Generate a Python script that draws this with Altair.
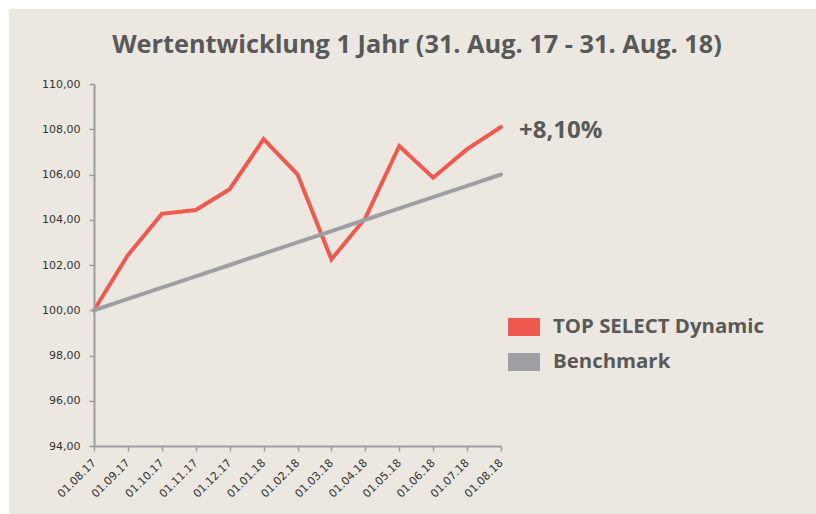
import altair as alt
import pandas as pd

dates = ["01.08.17", "01.09.17", "01.10.17", "01.11.17", "01.12.17", "01.01.18",
         "01.02.18", "01.03.18", "01.04.18", "01.05.18", "01.06.18", "01.07.18", "01.08.18"]
top_select = [100.00, 102.44, 104.26, 104.43, 105.35, 107.56, 106.01, 102.25,
              104.07, 107.26, 105.86, 107.12, 108.10]
benchmark = [100.00, 100.50, 101.00, 101.50, 102.00, 102.50, 103.00, 103.50,
             104.00, 104.50, 105.00, 105.50, 106.00]
series_names = ["TOP SELECT Dynamic", "Benchmark"]
series_colors = ["#F0594D", "#9E9FA3"]
annotation = "+8,10%"
title_text = "Wertentwicklung 1 Jahr (31. Aug. 17 - 31. Aug. 18)"

rows = []
for d, a, b in zip(dates, top_select, benchmark):
    rows.append({"Datum": d, "Serie": series_names[0], "Wert": a})
    rows.append({"Datum": d, "Serie": series_names[1], "Wert": b})
df = pd.DataFrame(rows)
ann_df = pd.DataFrame([{"Datum": dates[-1], "Wert": top_select[-1], "t": annotation}])

TEXT = "#595959"
BG = "#ECE8E1"
AXIS = "#9C9DA1"
FONT = "Open Sans"
RECT = "M-1,-0.5625H1V0.5625H-1Z"

W, H = 407, 362

x_enc = alt.X("Datum:O", sort=dates, scale=alt.Scale(type="point", padding=0),
              axis=alt.Axis(title=None, labelAngle=-45, labelAlign="right", labelBaseline="middle",
                            labelFont="DejaVu Sans", labelFontSize=11, labelColor="#333333",
                            domainColor=AXIS, domainWidth=2, tickColor=AXIS, tickWidth=1.5,
                            tickSize=5, labelPadding=10, grid=False, zindex=1))
y_enc = alt.Y("Wert:Q", scale=alt.Scale(domain=[94, 110], nice=False, zero=False),
              axis=alt.Axis(title=None, values=[94, 96, 98, 100, 102, 104, 106, 108, 110],
                            labelExpr="replace(format(datum.value, '.2f'), '.', ',')",
                            labelFont="DejaVu Sans", labelFontSize=11, labelColor="#333333",
                            domainColor=AXIS, domainWidth=2, tickColor=AXIS, tickWidth=1.5,
                            tickSize=5, labelPadding=9, grid=False, zindex=1))

color_scale = alt.Scale(domain=series_names, range=series_colors)

bg = alt.Chart(pd.DataFrame({"a": [0]})).mark_rect(color=BG).encode(
    x=alt.value(-85), x2=alt.value(W + 315), y=alt.value(-75), y2=alt.value(H + 68))

lines = alt.Chart(df).mark_line(strokeWidth=4, strokeCap="round", strokeJoin="miter").encode(
    x=x_enc, y=y_enc,
    color=alt.Color("Serie:N", sort=series_names, scale=color_scale, legend=None),
    order=alt.Order("Serie:N", sort="descending"))

legend = alt.Legend(
    title=None, orient="none", legendX=414, legendY=227,
    symbolType=RECT, symbolSize=1024, symbolStrokeWidth=0, symbolOpacity=1,
    labelFont=FONT, labelFontSize=20.4, labelFontWeight="bold",
    labelColor=TEXT, labelOffset=13, labelLimit=400, rowPadding=8, padding=0)

legend_layer = alt.Chart(df).mark_point(filled=True, opacity=0, shape=RECT, size=1).encode(
    x=alt.X("Datum:O", sort=dates), y="Wert:Q",
    color=alt.Color("Serie:N", sort=series_names, scale=color_scale, legend=legend))

ann = alt.Chart(ann_df).mark_text(align="left", baseline="middle", dx=18, dy=4,
                                  font=FONT, fontSize=24, fontWeight="bold", color=TEXT).encode(
    x=alt.X("Datum:O", sort=dates), y="Wert:Q", text="t:N")

title = alt.Chart(pd.DataFrame({"t": [title_text]})).mark_text(
    align="center", baseline="middle", font=FONT, fontSize=25.3, fontWeight="bold", color=TEXT).encode(
    x=alt.value(323), y=alt.value(-39), text="t:N")

chart = alt.layer(bg, lines, legend_layer, ann, title).resolve_scale(
    color="independent"
).properties(
    width=W, height=H,
    autosize=alt.AutoSizeParams(type="none"),
    padding={"left": 94, "top": 84, "right": 315, "bottom": 68},
    background="white",
).configure_view(stroke=None)

chart.save("out.html", embed_options={"renderer": "svg", "actions": False})
